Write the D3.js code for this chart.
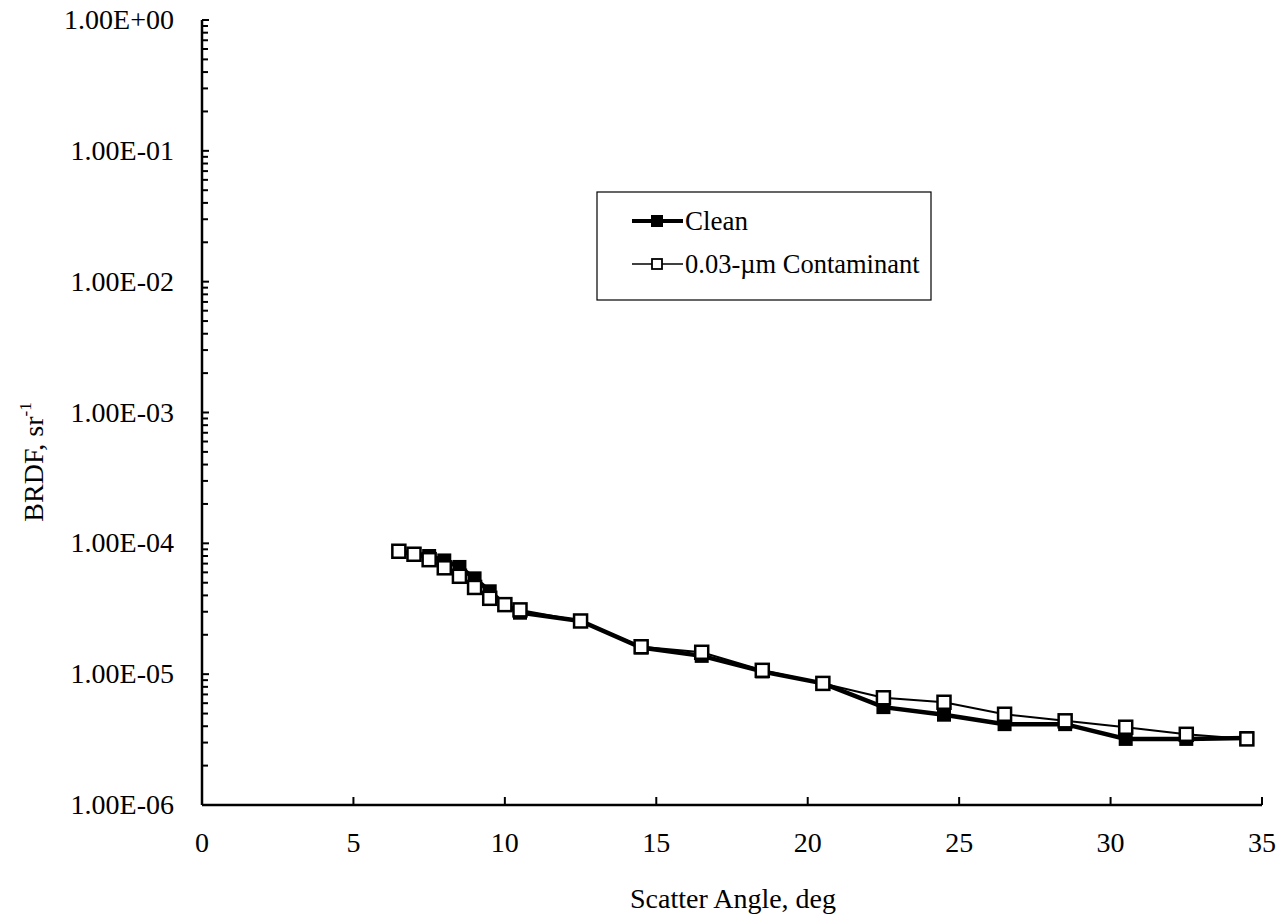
<!DOCTYPE html>
<html><head><meta charset="utf-8">
<script src="https://cdn.jsdelivr.net/npm/d3@7"></script>
<style>body{margin:0;background:#fff}svg{display:block}text{font-family:"Liberation Serif","Times New Roman",serif;fill:#000}</style>
</head><body><svg id="c" width="1283" height="921"></svg>
<script>
const angles = [6.5,7,7.5,8,8.5,9,9.5,10,10.5,12.5,14.5,16.5,18.5,20.5,22.5,24.5,26.5,28.5,30.5,32.5,34.5];
const cleanBRDF = [8.7e-5,8.3e-5,8.0e-5,7.4e-5,6.6e-5,5.4e-5,4.3e-5,3.4e-5,2.95e-5,2.55e-5,1.6e-5,1.38e-5,1.05e-5,8.5e-6,5.6e-6,4.9e-6,4.15e-6,4.15e-6,3.2e-6,3.2e-6,3.25e-6];
const contamBRDF = [8.7e-5,8.25e-5,7.5e-5,6.5e-5,5.6e-5,4.6e-5,3.8e-5,3.4e-5,3.1e-5,2.55e-5,1.62e-5,1.47e-5,1.07e-5,8.5e-6,6.6e-6,6.1e-6,4.94e-6,4.4e-6,3.93e-6,3.47e-6,3.2e-6];
const xTicks = [0,5,10,15,20,25,30,35];
const yTicks = [1e0,1e-1,1e-2,1e-3,1e-4,1e-5,1e-6];
const yTickLabels = ["1.00E+00","1.00E-01","1.00E-02","1.00E-03","1.00E-04","1.00E-05","1.00E-06"];
const seriesNames = ["Clean","0.03-\u00b5m Contaminant"];

const svg = d3.select("#c");
const L=202, R=1262, T=20, B=805;
const FS = 28;
const x = d3.scaleLinear().domain([0,35]).range([L,R]);
const y = d3.scaleLog().domain([1e-6,1]).range([B,T]);

// y axis
const minor = [];
for (let e=-6;e<0;e++) for (let m=2;m<=9;m++) minor.push(m*Math.pow(10,e));
const gy = svg.append("g");
gy.append("line").attr("x1",L).attr("x2",L).attr("y1",T).attr("y2",B).attr("stroke","#000").attr("stroke-width",2.5);
gy.selectAll(".mn").data(minor).join("line").attr("x1",L).attr("x2",L+6).attr("y1",d=>y(d)).attr("y2",d=>y(d)).attr("stroke","#000").attr("stroke-width",2);
gy.selectAll(".mj").data(yTicks).join("line").attr("x1",L).attr("x2",L+7).attr("y1",d=>y(d)).attr("y2",d=>y(d)).attr("stroke","#000").attr("stroke-width",2);
gy.selectAll("text").data(yTicks).join("text").attr("x",174).attr("y",d=>y(d)+9).attr("text-anchor","end").attr("font-size",FS).text((d,i)=>yTickLabels[i]);

// x axis
const gx = svg.append("g");
gx.append("line").attr("x1",L).attr("x2",R).attr("y1",B).attr("y2",B).attr("stroke","#000").attr("stroke-width",2.5);
gx.selectAll("line.t").data(xTicks).join("line").attr("class","t").attr("x1",d=>x(d)).attr("x2",d=>x(d)).attr("y1",B).attr("y2",B-8).attr("stroke","#000").attr("stroke-width",2);
gx.selectAll("text").data(xTicks).join("text").attr("x",d=>x(d)).attr("y",852).attr("text-anchor","middle").attr("font-size",FS).text(d=>d);

svg.append("text").attr("x",733).attr("y",908).attr("text-anchor","middle").attr("font-size",FS).text("Scatter Angle, deg");
const yt = svg.append("text").attr("transform","translate(43,462) rotate(-90)").attr("text-anchor","middle").attr("font-size",FS);
yt.append("tspan").text("BRDF, sr");
yt.append("tspan").attr("font-size",17).attr("dy",-12).text("-1");

const line = d3.line().x(d=>x(d[0])).y(d=>y(d[1]));
const clean = angles.map((a,i)=>[a,cleanBRDF[i]]);
const contam = angles.map((a,i)=>[a,contamBRDF[i]]);

svg.append("path").attr("d",line(clean)).attr("fill","none").attr("stroke","#000").attr("stroke-width",4.5);
svg.selectAll(".cm").data(clean).join("rect").attr("x",d=>x(d[0])-7).attr("y",d=>y(d[1])-7).attr("width",14).attr("height",14).attr("fill","#000");
svg.append("path").attr("d",line(contam)).attr("fill","none").attr("stroke","#000").attr("stroke-width",2);
svg.selectAll(".om").data(contam).join("rect").attr("x",d=>x(d[0])-6.5).attr("y",d=>y(d[1])-6.5).attr("width",13).attr("height",13).attr("fill","#fff").attr("stroke","#000").attr("stroke-width",2.5);

// legend
const lg = svg.append("g");
lg.append("rect").attr("x",597).attr("y",192).attr("width",334).attr("height",108).attr("fill","#fff").attr("stroke","#000").attr("stroke-width",1.2);
lg.append("line").attr("x1",632).attr("x2",683).attr("y1",221).attr("y2",221).attr("stroke","#000").attr("stroke-width",4);
lg.append("rect").attr("x",651).attr("y",215).attr("width",12).attr("height",12).attr("fill","#000");
lg.append("text").attr("x",685).attr("y",230).attr("font-size",27).text(seriesNames[0]);
lg.append("line").attr("x1",632).attr("x2",683).attr("y1",264).attr("y2",264).attr("stroke","#000").attr("stroke-width",1.5);
lg.append("rect").attr("x",652).attr("y",259).attr("width",10).attr("height",10).attr("fill","#fff").attr("stroke","#000").attr("stroke-width",1.8);
lg.append("text").attr("x",685).attr("y",273).attr("font-size",26.5).text(seriesNames[1]);
</script></body></html>
